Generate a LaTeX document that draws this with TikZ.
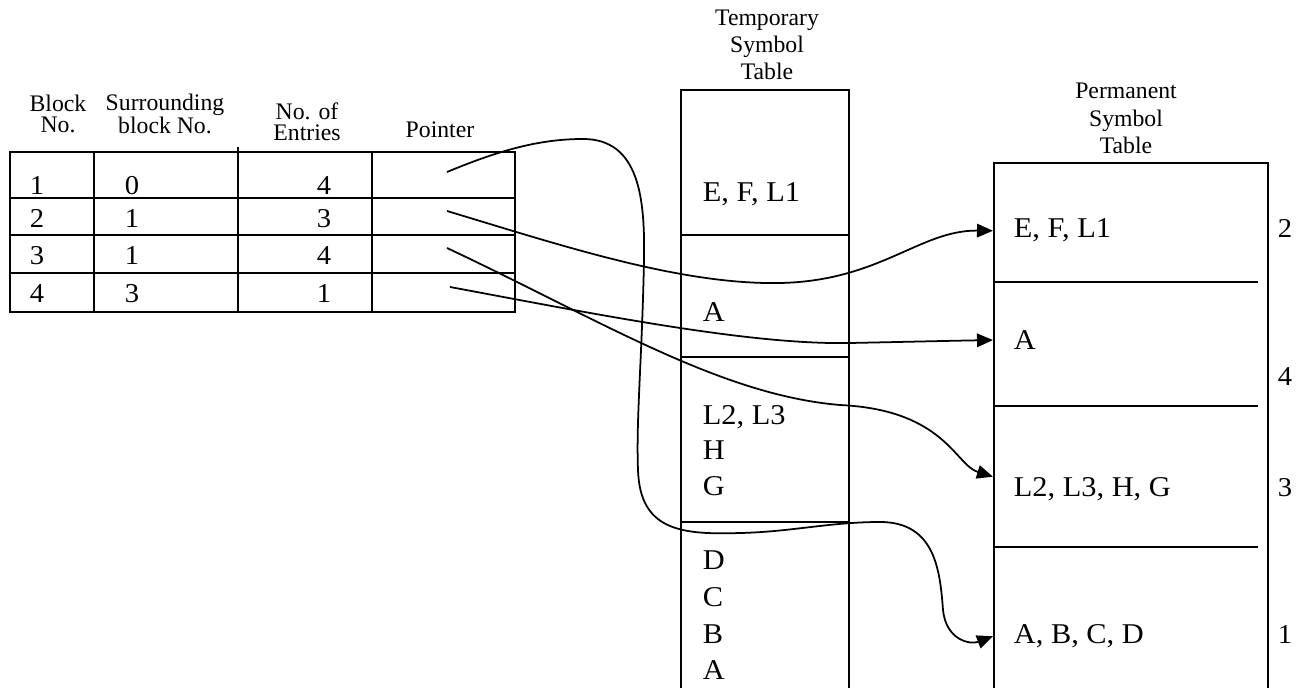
\documentclass[tikz,border=0pt]{standalone}
\usepackage{fontspec}
\setmainfont{Liberation Serif}
\usetikzlibrary{arrows.meta}
\tikzstyle{hdr} = [align=center, inner sep=0pt, font=\fontsize{13.5}{12}\selectfont]
\tikzstyle{title} = [align=center, inner sep=0pt, font=\fontsize{13.5}{15.5}\selectfont]
\tikzstyle{cell} = [inner sep=0pt, anchor=base, xscale=1.05, font=\fontsize{15.5}{17}\selectfont]
\tikzstyle{entry} = [inner sep=0pt, anchor=base west, xscale=1.06, font=\fontsize{16.3}{18}\selectfont]
\tikzstyle{arrow} = [line width=1pt, -{Triangle[length=0.32cm, width=0.27cm]}]

\begin{document}
\begin{tikzpicture}[x=0.02cm, y=-0.02cm, line width=1pt]
    \useasboundingbox (0,0) rectangle (1309,688);
    % block table
    \draw (10,152) rectangle (515,312);
    \foreach \y in {198,235,273} \draw (10,\y) -- (515,\y);
    \draw (94,152) -- (94,312);
    \draw (238,147) -- (238,312);
    \draw (372,152) -- (372,312);
    \node (hBlock) [hdr] at (58,114) {Block\\No.};
    \node (hSurr) [hdr] at (165,114) {Surrounding\\block No.};
    \node (hEntries) [hdr] at (307,122) {No. of\\Entries};
    \node (hPointer) [hdr] at (440,130) {Pointer};
    \foreach \r/\s/\n/\y in {1/0/4/195, 2/1/3/228, 3/1/4/265, 4/3/1/303} {
        \node (blk\r) [cell] at (37,\y) {\r};
        \node (sur\r) [cell] at (132,\y) {\s};
        \node (ent\r) [cell] at (324,\y) {\n};
    }
    \coordinate (ptr1) at (447,172);
    \coordinate (ptr2) at (447,211);
    \coordinate (ptr3) at (447,248);
    \coordinate (ptr4) at (450,287);

    % temporary symbol table
    \node (tmpTitle) [title] at (767,45) {Temporary\\Symbol\\Table};
    \draw (681,700) -- (681,90) -- (849,90) -- (849,700);
    \foreach \y in {235,357,522} \draw (681,\y) -- (849,\y);
    \node (tEFL) [entry] at (702,201.5) {E, F, L1};
    \node (tA) [entry] at (702,321.5) {A};
    \node (tL) [entry] at (702,424.5) {L2, L3};
    \node (tH) [entry] at (702,459.5) {H};
    \node (tG) [entry] at (702,495.5) {G};
    \foreach \s/\y [count=\i] in {D/569.5, C/606.5, B/643.5, A/679.5}
        \node (tl\i) [entry] at (702,\y) {\s};

    % permanent symbol table
    \node (permTitle) [title] at (1126,118.5) {Permanent\\Symbol\\Table};
    \node (perm) [draw, inner sep=0pt, anchor=north west, minimum width=5.48cm, minimum height=12cm] at (993,162) {};
    \foreach \y in {282,406,547} \draw (993,\y) -- (1258,\y);
    \node (pEFL) [entry] at (1013,238) {E, F, L1};
    \node (pA) [entry] at (1013,349.5) {A};
    \node (pLHG) [entry] at (1013,496.5) {L2, L3, H, G};
    \node (pABCD) [entry] at (1013,643.5) {A, B, C, D};
    \node (n2) [cell] at (1285,238) {2};
    \node (n4) [cell] at (1285,386) {4};
    \node (n3) [cell] at (1285,496.5) {3};
    \node (n1) [cell] at (1285,643.5) {1};

    % pointers
    \draw [arrow] (ptr2) .. controls (560,245) and (680,285) .. (780,283) .. controls (880,281) and (920,230) .. (pEFL.west -| perm.west);
    \draw [arrow] (ptr4) .. controls (600,315) and (750,345) .. (850,343) .. controls (900,342) and (940,341) .. (pA.west -| perm.west);
    \draw [arrow] (ptr3) .. controls (600,320) and (720,395) .. (840,405) .. controls (945,410) and (955,465) .. (pLHG.north west -| perm.west);
    \draw [arrow] (ptr1) .. controls (500,150) and (540,139) .. (583,139) .. controls (640,139) and (645,200) .. (644,260) .. controls (642,360) and (636,420) .. (638,470) .. controls (640,530) and (680,535) .. (740,533) .. controls (790,532) and (830,522) .. (880,522) .. controls (935,522) and (940,570) .. (943,610) .. controls (946,640) and (970,645) .. (pABCD.west -| perm.west);
\end{tikzpicture}
\end{document}
